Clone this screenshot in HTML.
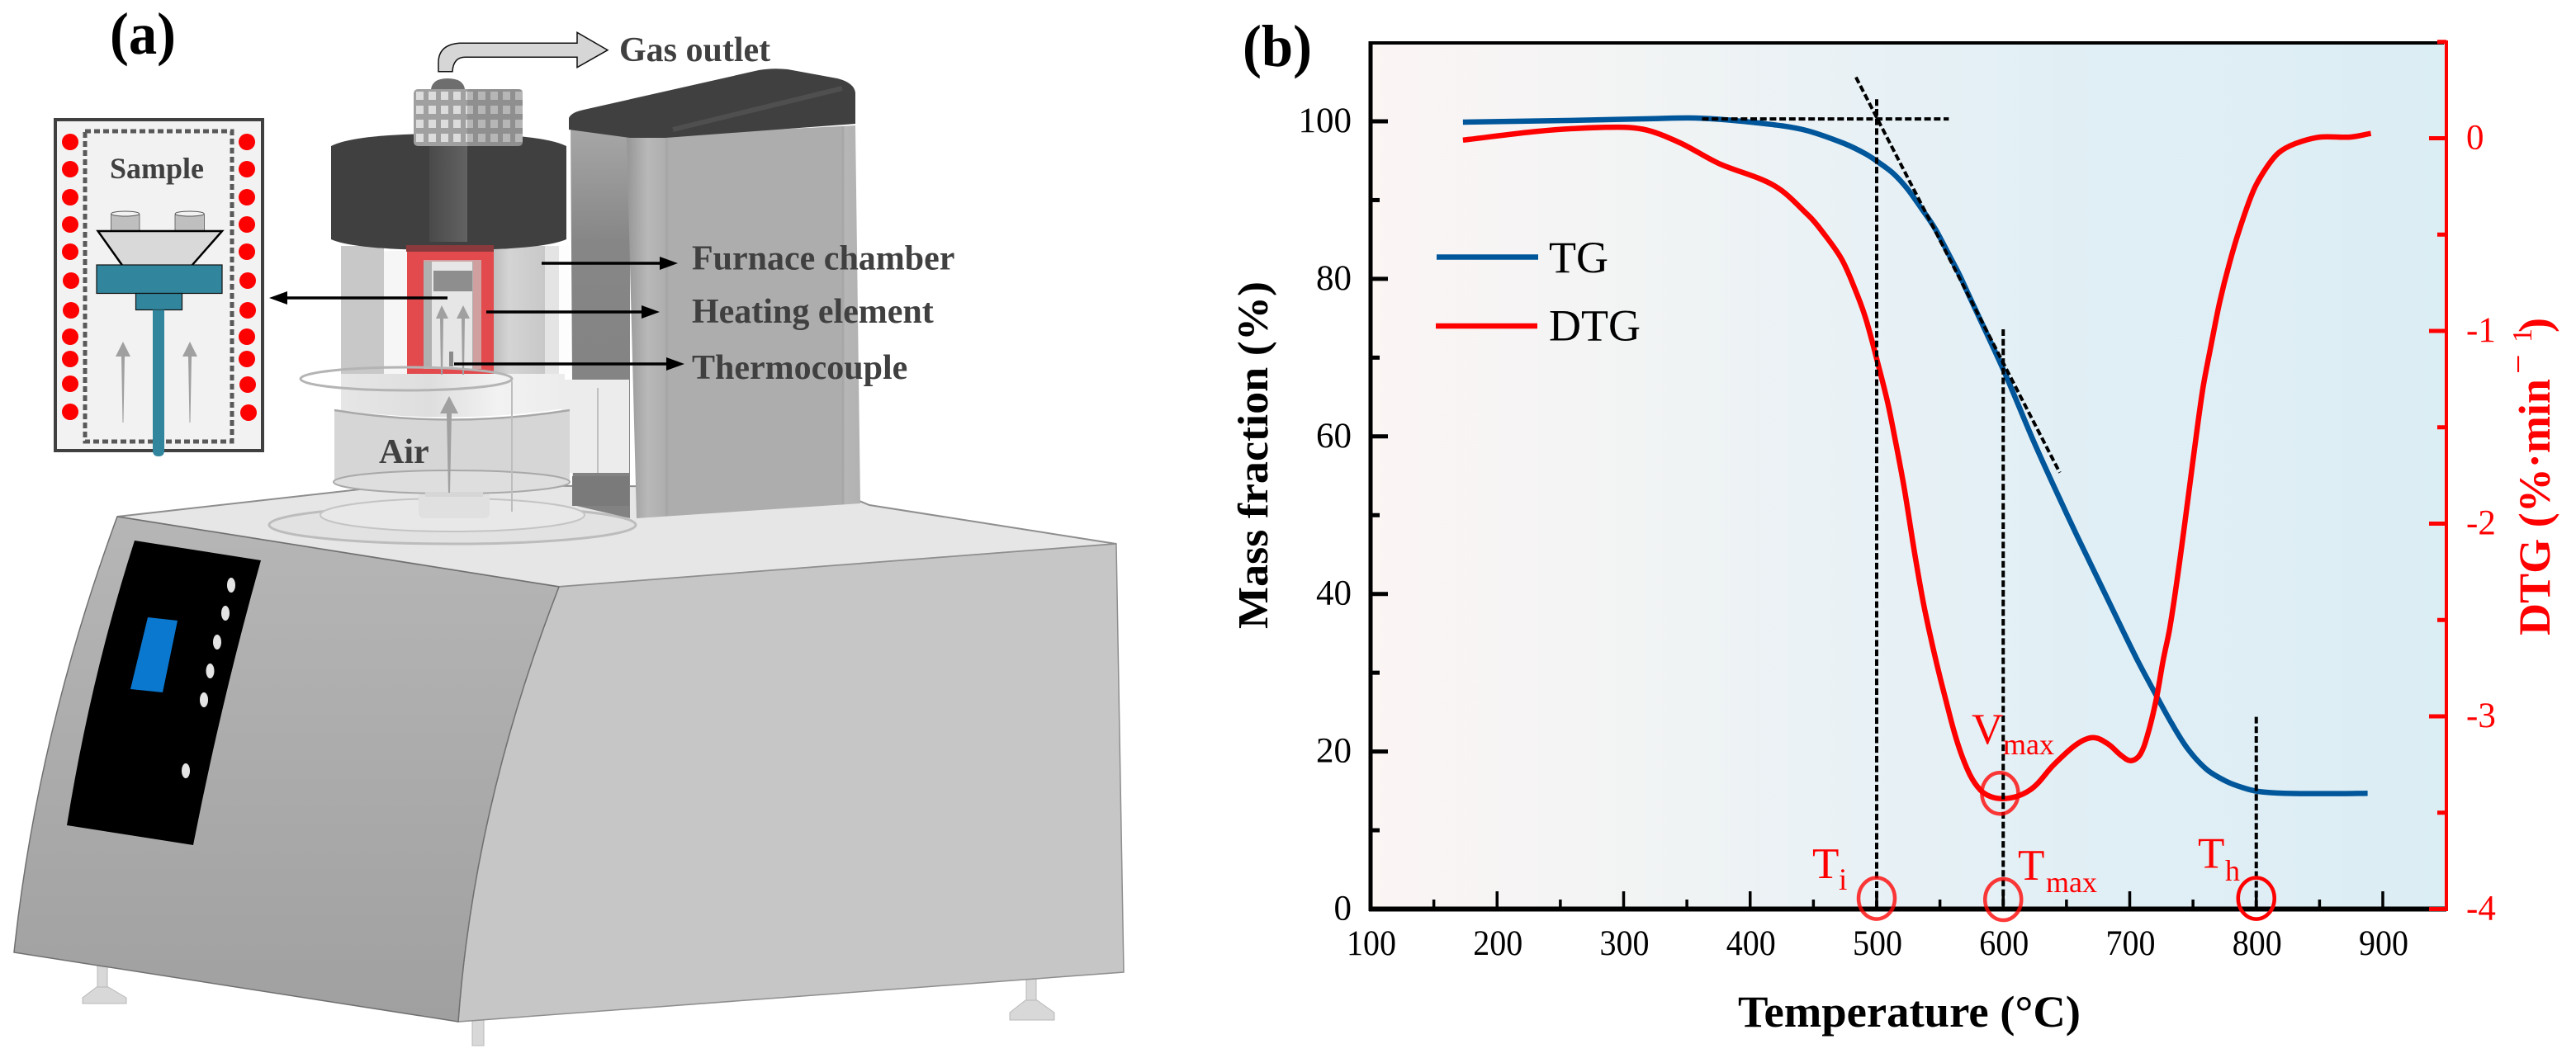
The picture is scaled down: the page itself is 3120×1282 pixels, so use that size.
<!DOCTYPE html>
<html>
<head>
<meta charset="utf-8">
<title>TG apparatus and TG/DTG curves</title>
<style>
html,body{margin:0;padding:0;background:#fff;overflow:hidden;}
svg{display:block;}
text{font-family:"Liberation Serif",serif;}
.lab{font-weight:bold;fill:#404040;font-size:42px;}
</style>
</head>
<body>
<svg id="fig" xmlns="http://www.w3.org/2000/svg" width="3120" height="1282" viewBox="0 0 3120 1282">
<defs>
  <linearGradient id="plotBg" x1="0" x2="1" y1="0" y2="0">
    <stop offset="0" stop-color="#fbf5f4"/>
    <stop offset="0.22" stop-color="#f3f4f4"/>
    <stop offset="0.46" stop-color="#e8f1f5"/>
    <stop offset="0.645" stop-color="#e1eff5"/>
    <stop offset="1" stop-color="#dbeef4"/>
  </linearGradient>
  <linearGradient id="leftFace" x1="0" x2="0" y1="0" y2="1">
    <stop offset="0" stop-color="#b6b6b6"/>
    <stop offset="1" stop-color="#a0a0a0"/>
  </linearGradient>
  <linearGradient id="towerFront" x1="0" x2="1" y1="0" y2="0">
    <stop offset="0" stop-color="#969696"/>
    <stop offset="0.09" stop-color="#b8b8b8"/>
    <stop offset="0.165" stop-color="#aeaeae"/>
    <stop offset="0.17" stop-color="#a4a4a4"/>
    <stop offset="0.18" stop-color="#adadad"/>
    <stop offset="0.92" stop-color="#adadad"/>
    <stop offset="0.925" stop-color="#a4a4a4"/>
    <stop offset="0.935" stop-color="#b6b6b6"/>
    <stop offset="1" stop-color="#b2b2b2"/>
  </linearGradient>
  <linearGradient id="towerLeft" x1="0" x2="0" y1="0" y2="1">
    <stop offset="0" stop-color="#a8a8a8"/>
    <stop offset="0.3" stop-color="#868686"/>
    <stop offset="1" stop-color="#828282"/>
  </linearGradient>
  <linearGradient id="chamberRight" x1="0" x2="1" y1="0" y2="0">
    <stop offset="0" stop-color="#bebebe"/>
    <stop offset="0.3" stop-color="#d4d4d4"/>
    <stop offset="1" stop-color="#c8c8c8"/>
  </linearGradient>
  <linearGradient id="bandGrad" x1="0" x2="1" y1="0" y2="0">
    <stop offset="0" stop-color="#e6e6e6"/>
    <stop offset="0.4" stop-color="#dedede"/>
    <stop offset="0.7" stop-color="#f2f2f2"/>
    <stop offset="1" stop-color="#ececec"/>
  </linearGradient>
  <linearGradient id="capStrip" x1="0" x2="1" y1="0" y2="0">
    <stop offset="0" stop-color="#4a4a4a"/>
    <stop offset="1" stop-color="#626262"/>
  </linearGradient>
  <pattern id="mesh" x="501" y="108" width="15" height="17" patternUnits="userSpaceOnUse">
    <rect width="15" height="17" fill="#a0a0a0"/>
    <rect x="3" y="3" width="9" height="10" fill="#dcdcdc"/>
  </pattern>
</defs>

<!-- PANEL A -->
<g id="panel-a">
  <text x="133" y="65" font-size="72" font-weight="bold" fill="#000" textLength="80" lengthAdjust="spacingAndGlyphs">(a)</text>

  <g>
    <g fill="#d8d8d8" stroke="#b8b8b8" stroke-width="1">
      <rect x="118" y="1168" width="12" height="30"/>
      <path d="M117 1196 L131 1196 L153 1209 L153 1216 L100 1216 L100 1209Z"/>
      <rect x="1243" y="1180" width="12" height="34"/>
      <path d="M1242 1212 L1256 1212 L1277 1227 L1277 1236 L1223 1236 L1223 1227Z"/>
      <rect x="572" y="1236" width="14" height="31"/>
    </g>
    <polygon points="142,626 480,588 1000,590 1053,612 1352,659 677,711" fill="#e6e6e6" stroke="#8e8e8e" stroke-width="2"/>
    <path d="M677 711 L1352 659 L1361 1178 L555 1238 Q574 976 677 711Z" fill="#c6c6c6" stroke="#8e8e8e" stroke-width="1.5"/>
    <path d="M142 626 L677 711 Q574 976 555 1238 L17 1154 Q45 890 142 626Z" fill="url(#leftFace)" stroke="#707070" stroke-width="1.5"/>
    <path d="M163 655 L316 679 Q268 850 234 1024 L81 1000 Q110 820 163 655Z" fill="#000"/>
    <polygon points="179,748 215,752 197,839 158,835" fill="#0b78d0"/>
    <g fill="#e4e4e4">
      <ellipse cx="280" cy="709" rx="5" ry="9"/>
      <ellipse cx="273" cy="743" rx="5" ry="9"/>
      <ellipse cx="263" cy="778" rx="5" ry="9"/>
      <ellipse cx="254.5" cy="813" rx="5" ry="9"/>
      <ellipse cx="247" cy="848" rx="5" ry="9"/>
      <ellipse cx="225" cy="934" rx="5" ry="9"/>
    </g>
  </g>

  <g>
    <ellipse cx="548" cy="636" rx="222" ry="23" fill="#e2e2e2" stroke="#bcbcbc" stroke-width="3"/>
    <ellipse cx="548" cy="624" rx="160" ry="20" fill="#e8e8e8" stroke="#c4c4c4" stroke-width="2"/>
    <rect x="507" y="596" width="86" height="32" rx="6" fill="#e0e0e0"/>
  </g>

  <g>
    <polygon points="691,150 763,166 763,628 694,612" fill="url(#towerLeft)"/>
    <polygon points="759,166 1036,152 1042,610 771,628" fill="url(#towerFront)"/>
    <path d="M689 143 Q692 136 707 133 L919 85 Q936 82 954 84 L1014 95 Q1034 100 1036 112 L1036 150 L806 167 L763 167 L689 157Z" fill="#404040"/>
    <path d="M815 157 L1020 107" stroke="#5e5e5e" stroke-opacity="0.5" stroke-width="6" fill="none"/>
  </g>

  <g>
    <rect x="680" y="460" width="82" height="113" fill="#ececec"/>
    <line x1="724" y1="470" x2="724" y2="573" stroke="#c0c0c0" stroke-width="2"/>
    <rect x="693" y="577" width="69" height="36" fill="#7a7a7a"/>
  </g>

  <g>
    <path d="M405 497 Q546 520 690 497 L690 585 Q546 612 405 585Z" fill="#d6d6d6"/>
    <ellipse cx="547" cy="584" rx="143" ry="14" fill="#dedede" stroke="#a8a8a8" stroke-width="2"/>
    <rect x="515" y="596" width="70" height="6" fill="#d6d6d6"/>
    <path d="M413 453 L684 453 L684 495 Q546 515 413 497Z" fill="url(#bandGrad)"/>
    <path d="M405 497 Q546 520 690 497" fill="none" stroke="#a8a8a8" stroke-width="2.5"/>
    <rect x="413" y="298" width="52" height="155" fill="#c8c8c8"/>
    <rect x="465" y="304" width="30" height="149" fill="#f6f6f6"/>
    <rect x="598" y="298" width="62" height="155" fill="url(#chamberRight)"/>
    <rect x="660" y="298" width="17" height="155" fill="#e4e4e4"/>
    <rect x="677" y="298" width="13" height="155" fill="#fdfdfd"/>
    <rect x="493" y="304" width="105" height="149" fill="#e24a4e"/>
    <rect x="513" y="315" width="70" height="132" fill="#d0a0a0"/>
    <rect x="513" y="317" width="60" height="130" fill="#b0b0b0"/>
    <rect x="523" y="317" width="49" height="130" fill="#e6e6e6"/>
    <rect x="525" y="328" width="47" height="25" fill="#8e8e8e"/>
    <rect x="544" y="426" width="5" height="18" fill="#8a8a8a"/>
    <polygon points="535,370 543,386 537,386 536,454 534,454 533,386 528,386" fill="#a0a0a0"/>
    <polygon points="561,370 569,386 563,386 562,454 560,454 559,386 553,386" fill="#a0a0a0"/>
    <ellipse cx="492" cy="459" rx="128" ry="14" fill="none" stroke="#b4b4b4" stroke-width="3"/>
    <line x1="620" y1="462" x2="620" y2="620" stroke="#bdbdbd" stroke-width="2"/>
    <polygon points="544,480 555,501 547,501 545,597 543,597 541,501 533,501" fill="#a0a0a0"/>
    <text class="lab" x="459" y="561">Air</text>

    <path d="M401 177 Q430 162 543 162 Q656 162 686 177 L686 290 Q656 303 543 303 Q430 303 401 290Z" fill="#404040"/>
    <rect x="520" y="177" width="46" height="116" fill="url(#capStrip)"/>
    <rect x="492" y="297" width="106" height="8" fill="#8a3a3c"/>
    <rect x="501" y="108" width="132" height="69" rx="5" fill="url(#mesh)"/>
    <rect x="566" y="108" width="67" height="69" rx="3" fill="#707070" opacity="0.35"/>
    <path d="M522 108 Q524 95 542 95 Q561 95 563 108Z" fill="#6e6e6e"/>
  </g>

  <path d="M531 86.7 L548 86.7 Q549 69.3 563.5 69.3 L699 69.3 L699 81.7 L736 60.7 L699 39.3 L699 52.3 L557 52.3 Q531 54 531 76Z" fill="#d6d6d6" stroke="#111" stroke-width="1.5"/>
  <text class="lab" x="750" y="74">Gas outlet</text>

  <g>
    <rect x="67" y="145" width="251" height="401" fill="#f2f2f2" stroke="#404040" stroke-width="4"/>
    <rect x="103" y="159" width="178" height="376" fill="none" stroke="#595959" stroke-width="5" stroke-dasharray="7 4"/>
    <g fill="#ff0000">
      <ellipse cx="85" cy="172" rx="10" ry="10"/><ellipse cx="85" cy="205" rx="10" ry="10"/>
      <ellipse cx="85" cy="239" rx="10" ry="10"/><ellipse cx="85" cy="272" rx="10" ry="10"/>
      <ellipse cx="85" cy="305" rx="10" ry="10"/><ellipse cx="86" cy="340" rx="10" ry="10"/>
      <ellipse cx="86" cy="376" rx="10" ry="10"/><ellipse cx="85" cy="408" rx="10" ry="10"/>
      <ellipse cx="85" cy="435" rx="10" ry="10"/><ellipse cx="85" cy="465" rx="10" ry="10"/>
      <ellipse cx="85" cy="499" rx="10" ry="10"/>
      <ellipse cx="299" cy="172" rx="10" ry="10"/><ellipse cx="299" cy="205" rx="10" ry="10"/>
      <ellipse cx="299" cy="239" rx="10" ry="10"/><ellipse cx="299" cy="272" rx="10" ry="10"/>
      <ellipse cx="299" cy="305" rx="10" ry="10"/><ellipse cx="300" cy="340" rx="10" ry="10"/>
      <ellipse cx="300" cy="376" rx="10" ry="10"/><ellipse cx="299" cy="408" rx="10" ry="10"/>
      <ellipse cx="299" cy="435" rx="10" ry="10"/><ellipse cx="300" cy="466" rx="10" ry="10"/>
      <ellipse cx="301" cy="500" rx="10" ry="10"/>
    </g>
    <text class="lab" style="font-size:36px" x="133" y="216">Sample</text>
    <rect x="134.5" y="260" width="34.5" height="20" fill="#bfbfbf" stroke="#555" stroke-width="0.8"/>
    <ellipse cx="151.7" cy="259" rx="17" ry="3" fill="#f2f2f2" stroke="#555" stroke-width="1"/>
    <rect x="212" y="260" width="35.5" height="20" fill="#bfbfbf" stroke="#555" stroke-width="0.8"/>
    <ellipse cx="229.7" cy="259" rx="17.5" ry="3" fill="#f2f2f2" stroke="#555" stroke-width="1"/>
    <polygon points="118.6,280 269,280 231.7,322.4 148.7,322.4" fill="#d9d9d9" stroke="#000" stroke-width="2.5"/>
    <rect x="117" y="321" width="152" height="34.5" fill="#31859c" stroke="#111" stroke-width="1.2"/>
    <rect x="164.5" y="355.5" width="56" height="20" fill="#31859c" stroke="#111" stroke-width="1.2"/>
    <path d="M185 375.5 H199 V546 Q199 553 192 553 Q185 553 185 546Z" fill="#31859c"/>
    <polygon points="149,414 158,432 151,432 149.5,512 148.5,512 147,432 140,432" fill="#a0a0a0"/>
    <polygon points="230,414 239,432 232,432 230.5,512 229.5,512 228,432 221,432" fill="#a0a0a0"/>
  </g>

  <g stroke="#000" stroke-width="3.5" fill="#000">
    <line x1="542" y1="361" x2="345" y2="361"/><polygon points="326,361 348,353 348,369" stroke="none"/>
    <line x1="656" y1="319" x2="800" y2="319"/><polygon points="821,319 799,311 799,327" stroke="none"/>
    <line x1="589" y1="378" x2="780" y2="378"/><polygon points="799,378 777,370 777,386" stroke="none"/>
    <line x1="550" y1="441" x2="810" y2="441"/><polygon points="829,441 807,433 807,449" stroke="none"/>
  </g>
  <text class="lab" x="838" y="326.5">Furnace chamber</text>
  <text class="lab" x="838" y="391">Heating element</text>
  <text class="lab" x="838" y="459">Thermocouple</text>
</g>

<!-- PANEL B -->
<g id="panel-b">
  <text x="1505" y="80" font-size="72" font-weight="bold" fill="#000" textLength="84" lengthAdjust="spacingAndGlyphs">(b)</text>
  <rect x="1660" y="52" width="1303" height="1049" fill="url(#plotBg)"/>
  <g id="series"></g>
  <g id="guides"></g>
  <g id="axes"></g>
  <g id="markers"></g>

  <text x="1535" y="762" transform="rotate(-90 1535 762)" font-size="52" font-weight="bold" fill="#000" textLength="421" lengthAdjust="spacingAndGlyphs">Mass fraction (%)</text>
  <text x="2105" y="1244" font-size="54" font-weight="bold" fill="#000" textLength="415" lengthAdjust="spacingAndGlyphs">Temperature (°C)</text>
  <g fill="#ff0000">
    <text x="3088" y="770" transform="rotate(-90 3088 770)" font-size="54" font-weight="bold" textLength="311" lengthAdjust="spacingAndGlyphs">DTG (%·min</text>
    <text x="3064" y="453" transform="rotate(-90 3064 453)" font-size="42">−</text>
    <text x="3066" y="415" transform="rotate(-90 3066 415)" font-size="34">1</text>
    <text x="3088" y="403" transform="rotate(-90 3088 403)" font-size="54" font-weight="bold">)</text>
  </g>

  <g>
    <line x1="1740" y1="311.5" x2="1863" y2="311.5" stroke="#00569a" stroke-width="6.5"/>
    <text x="1876" y="330" font-size="54" fill="#000">TG</text>
    <line x1="1739" y1="395" x2="1862" y2="395" stroke="#ff0000" stroke-width="6.5"/>
    <text x="1876" y="412.5" font-size="54" fill="#000">DTG</text>
  </g>

  <g fill="#ff0000">
    <text x="2195" y="1064" font-size="53">T</text>
    <text x="2227" y="1078" font-size="37">i</text>
    <text x="2388" y="901" font-size="53">V</text>
    <text x="2426" y="914" font-size="36">max</text>
    <text x="2444" y="1066" font-size="53">T</text>
    <text x="2478" y="1081" font-size="36">max</text>
    <text x="2662" y="1051.5" font-size="53">T</text>
    <text x="2695" y="1067" font-size="36">h</text>
  </g>
</g>

<script>
// Chart data
const tgTemps = [173,255,324,361,409,443,474,491.5,502,513,524,535,546,557,565.5,573,600,624,644,658,680,695,707,720,733,746,761,776.5,789.5,801.5,822,868,888];
const tgMass = [99.9,100.1,100.35,100.4,99.75,98.9,97.2,95.84,94.73,93.4,91.48,89.03,86.41,83.1,80.48,77.86,68.5,59.4,52.3,47.5,40.2,35.2,31.3,27.4,23.6,20.3,17.7,16.2,15.4,14.93,14.7,14.66,14.7];
const dtgTemps = [173,232,283,315,344,375,419,446,456.7,472,482.8,491.5,502,509,515.5,522,530.7,539,554,568,582,599,621,640,658,671,683,692.7,700.8,708,714.5,721,726.4,731.8,740,750.8,757.9,764.5,771,778.6,787,798,808,817.8,830.8,850.4,874.3,890.6];
const dtgRates = [-0.01,0.036,0.056,0.047,-0.022,-0.13,-0.246,-0.40,-0.482,-0.624,-0.782,-0.939,-1.196,-1.381,-1.595,-1.824,-2.18,-2.48,-2.90,-3.216,-3.383,-3.427,-3.383,-3.251,-3.145,-3.11,-3.144,-3.20,-3.23,-3.20,-3.087,-2.909,-2.709,-2.537,-2.17,-1.63,-1.295,-1.067,-0.853,-0.653,-0.468,-0.268,-0.153,-0.075,-0.028,0.006,0.006,0.025];

const xTickValues = [100,200,300,400,500,600,700,800,900];
const xMinorValues = [150,250,350,450,550,650,750,850];
const yTickValues = [0,20,40,60,80,100];
const yMinorValues = [10,30,50,70,90];
const dtgTickValues = [0,-1,-2,-3,-4];
const dtgMinorValues = [0.5,-0.5,-1.5,-2.5,-3.5];

const guideStartT = [362,483.6,500,600,800];
const guideStartM = [100.3,105.6,102.8,73.6,24.4];
const guideEndT = [557,644.7,500,600,800];
const guideEndM = [100.3,55.4,0.2,0.2,0.2];

const markerTemps = [500,600,800,597.5];
const markerMass = [1.35,1.2,1.35,14.7];
const markerOpacity = [0.78,0.78,1,0.78];

// Axis functions
const xOf = t => 1660 + (t - 100) * 1.5325;
const yOf = m => 1101.5 - m * 9.545;
const yDtg = d => 167.5 - d * 233.5;

const NS = 'http://www.w3.org/2000/svg';
function mk(tag, attrs, parent, txt) {
  const el = document.createElementNS(NS, tag);
  for (const k in attrs) el.setAttribute(k, attrs[k]);
  if (txt !== undefined) el.textContent = txt;
  parent.appendChild(el);
  return el;
}
function smooth(pts) {
  const tang = pts.map((p, i) => {
    const a = pts[Math.max(i - 1, 0)], b = pts[Math.min(i + 1, pts.length - 1)];
    const dx = b[0] - a[0], dy = b[1] - a[1], n = Math.hypot(dx, dy) || 1;
    return [dx / n, dy / n];
  });
  let d = 'M' + pts[0][0].toFixed(1) + ' ' + pts[0][1].toFixed(1);
  for (let i = 0; i < pts.length - 1; i++) {
    const p1 = pts[i], p2 = pts[i + 1];
    const s = Math.hypot(p2[0] - p1[0], p2[1] - p1[1]) / 3;
    d += ' C' + (p1[0] + tang[i][0] * s).toFixed(1) + ' ' + (p1[1] + tang[i][1] * s).toFixed(1) + ' ' +
      (p2[0] - tang[i + 1][0] * s).toFixed(1) + ' ' + (p2[1] - tang[i + 1][1] * s).toFixed(1) + ' ' +
      p2[0].toFixed(1) + ' ' + p2[1].toFixed(1);
  }
  return d;
}

const series = document.getElementById('series');
const tgPath = mk('path', {d: smooth(tgTemps.map((t, i) => [xOf(t), yOf(tgMass[i])])), fill: 'none', stroke: '#00569a', 'stroke-width': 6.5}, series);


const dtgPath = mk('path', {d: smooth(dtgTemps.map((t, i) => [xOf(t), yDtg(dtgRates[i])])), fill: 'none', stroke: '#ff0000', 'stroke-width': 6.5}, series);



const guides = document.getElementById('guides');
guideStartT.forEach((t, i) => {
  const g = mk('line', {x1: xOf(t), y1: yOf(guideStartM[i]), x2: xOf(guideEndT[i]), y2: yOf(guideEndM[i]), stroke: '#000', 'stroke-width': 4, 'stroke-dasharray': '8 3.7'}, guides);
  
  
});

const axes = document.getElementById('axes');
const topLine = mk('line', {x1: 1658, y1: 52, x2: 2960, y2: 52, stroke: '#000', 'stroke-width': 4}, axes);


const leftLine = mk('line', {x1: 1660, y1: 50, x2: 1660, y2: 1104, stroke: '#000', 'stroke-width': 5}, axes);


const bottomLine = mk('line', {x1: 1658, y1: 1101.5, x2: 2963, y2: 1101.5, stroke: '#000', 'stroke-width': 6}, axes);


const rightLine = mk('line', {x1: 2963, y1: 49, x2: 2963, y2: 1104, stroke: '#ff0000', 'stroke-width': 4}, axes);



xTickValues.forEach(v => {
  const t = mk('line', {x1: xOf(v), y1: 1101, x2: xOf(v), y2: 1080, stroke: '#000', 'stroke-width': 3.5}, axes);
  
  
  const l = mk('text', {x: xOf(v) + 1, y: 1157, 'font-size': 43, 'text-anchor': 'middle', fill: '#000', textLength: 60, lengthAdjust: 'spacingAndGlyphs'}, axes, String(v));
  
  
});
xMinorValues.forEach(v => {
  const t = mk('line', {x1: xOf(v), y1: 1101, x2: xOf(v), y2: 1090, stroke: '#000', 'stroke-width': 3.5}, axes);
  
  
});
yTickValues.forEach(v => {
  const t = mk('line', {x1: 1660, y1: yOf(v), x2: 1681, y2: yOf(v), stroke: '#000', 'stroke-width': 5}, axes);
  
  
  const l = mk('text', {x: 1637, y: yOf(v) + 13, 'font-size': 43, 'text-anchor': 'end', fill: '#000'}, axes, String(v));
  
  
});
yMinorValues.forEach(v => {
  const t = mk('line', {x1: 1660, y1: yOf(v), x2: 1671, y2: yOf(v), stroke: '#000', 'stroke-width': 5}, axes);
  
  
});
dtgTickValues.forEach(v => {
  const t = mk('line', {x1: 2942, y1: yDtg(v), x2: 2963, y2: yDtg(v), stroke: '#ff0000', 'stroke-width': 5}, axes);
  
  
  const l = mk('text', {x: 2987, y: yDtg(v) + 13, 'font-size': 43, fill: '#ff0000'}, axes, String(v));
  
  
});
dtgMinorValues.forEach(v => {
  const t = mk('line', {x1: 2952, y1: yDtg(v), x2: 2963, y2: yDtg(v), stroke: '#ff0000', 'stroke-width': 5}, axes);
  
  
});

const markers = document.getElementById('markers');
markerTemps.forEach((t, i) => {
  const c = mk('ellipse', {cx: xOf(t), cy: yOf(markerMass[i]), rx: 22, ry: 25, fill: 'none', stroke: '#ff0000', 'stroke-opacity': markerOpacity[i], 'stroke-width': 4.5}, markers);
  
  
});
</script>
</svg>
</body>
</html>
